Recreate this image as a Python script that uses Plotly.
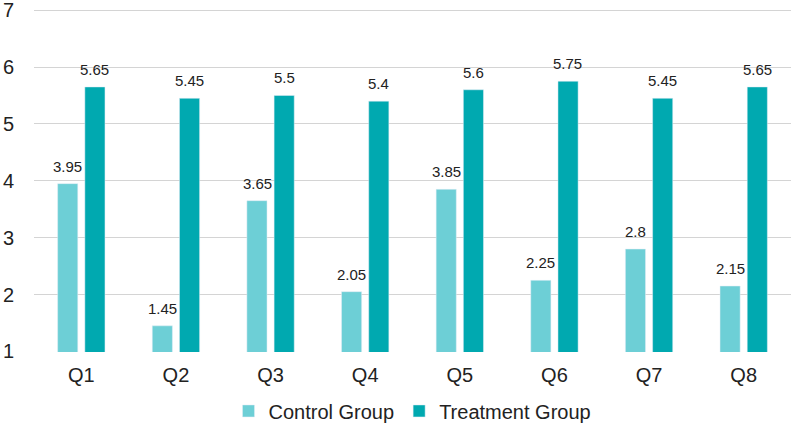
import plotly.graph_objects as go

categories = ["Q1", "Q2", "Q3", "Q4", "Q5", "Q6", "Q7", "Q8"]
control = [3.95, 1.45, 3.65, 2.05, 3.85, 2.25, 2.8, 2.15]
treatment = [5.65, 5.45, 5.5, 5.4, 5.6, 5.75, 5.45, 5.65]
y_ticks = [1, 2, 3, 4, 5, 6, 7]

FONT = "Liberation Sans, Arial, sans-serif"
C_CTRL = "#6dcfd6"
C_TRT = "#00a9b0"

fig = go.Figure()
fig.add_bar(x=categories, y=control, name="Control Group", marker_color=C_CTRL)
fig.add_bar(x=categories, y=treatment, name="Treatment Group", marker_color=C_TRT)

annotations = []
for cat, v in zip(categories, control):
    annotations.append(dict(x=cat, y=v, xref="x", yref="y", text=f"{v:g}", showarrow=False,
                            xshift=-13.5, yshift=7, yanchor="bottom",
                            font=dict(size=15, color="#222", family=FONT)))
for cat, v in zip(categories, treatment):
    annotations.append(dict(x=cat, y=v, xref="x", yref="y", text=f"{v:g}", showarrow=False,
                            xshift=13.5, yshift=7, yanchor="bottom",
                            font=dict(size=15, color="#222", family=FONT)))

fig.update_layout(
    width=796, height=428,
    margin=dict(l=34, r=5, t=9, b=76, autoexpand=False),
    paper_bgcolor="white", plot_bgcolor="white",
    font=dict(family=FONT, color="#222"),
    barmode="group", bargap=0.425, bargroupgap=0.26,
    showlegend=True,
    legend=dict(orientation="h", x=0.5, xanchor="center", y=-0.115, yanchor="top",
                font=dict(size=20), traceorder="normal"),
    annotations=annotations,
)
fig.update_xaxes(showgrid=False, showline=False, ticks="", tickfont=dict(size=20),
                 automargin=False, ticklabelstandoff=9)
fig.update_yaxes(range=[0.99, 7.02], tickvals=y_ticks, showgrid=True, gridcolor="#d4d4d4",
                 gridwidth=1, zeroline=False, showline=False, tickfont=dict(size=20),
                 ticklabelstandoff=19, automargin=False, ticklabeloverflow="allow")
fig.write_html("out.html", config={"displayModeBar": False},
               post_script="document.body.style.margin='0';")
